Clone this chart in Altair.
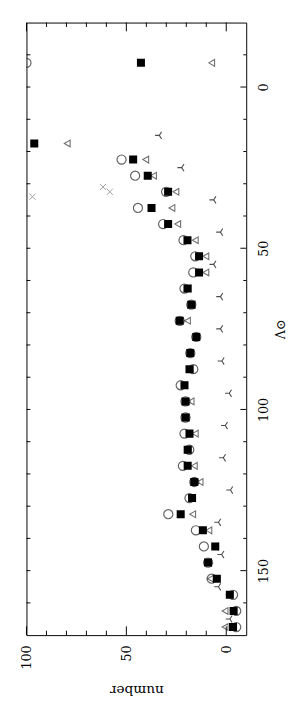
import altair as alt
import pandas as pd
import numpy as np

# Λ⊙ rows shared by the circle / square / triangle series
lam_rows = [-7.5, 17.5, 22.5, 27.5, 32.5, 37.5, 42.5, 47.5, 52.5, 57.5, 62.5, 67.5,
            72.5, 77.5, 82.5, 87.5, 92.5, 97.5, 102.5, 107.5, 112.5, 117.5, 122.5,
            127.5, 132.5, 137.5, 142.5, 147.5, 152.5, 157.5, 162.5, 167.5]
circle_vals = [100, None, 52.4, 45.6, 30.1, 44.2, 31.6, 21.4, 15.5, 16.5, 20.9, 17.5,
               23.3, 15.0, 18.0, 16.5, 22.8, 20.4, 20.4, 20.9, 18.5, 21.7, 16.0,
               18.4, 29.0, 15.2, 11.2, 9.1, 7.3, -3.4, -5.0, -5.0]
square_vals = [42.7, 96.1, 46.6, 39.3, 29.1, 37.4, 29.1, 19.4, 13.6, 13.6, 19.4, 17.5,
               23.3, 15.0, 18.0, 18.4, 20.9, 20.4, 20.4, 18.4, 19.3, 19.3, 16.0,
               17.1, 22.8, 11.7, 5.5, 9.1, 4.7, -1.8, -3.7, -3.4]
triangle_vals = [7.3, 79.6, 40.3, 36.4, 25.2, 27.2, 24.3, 15.5, 10.2, 10.2, 19.0, 17.0,
                 19.4, 15.0, 18.0, 18.0, 21.0, 17.6, 20.0, 15.5, 19.0, 16.0, 13.1,
                 17.0, 16.8, 8.7, 5.5, 9.0, 7.9, -1.5, 0.6, 0.6]

# tri-shaped ("Y") series
tri_lam = [15, 25, 35, 45, 55, 65, 75, 85, 95, 105, 115, 125, 135, 145, 155, 165]
tri_vals = [33.5, 22.3, 6.3, 2.9, 6.3, 2.9, 2.9, 2.2, -1.5, 0.5, 1.5, -2.1, 3.9, 2.3, 3.9, -1.8]

# crosses
cross_lam = [31.0, 32.5, 34.0]
cross_vals = [61.7, 58.3, 97.0]

# axis tick positions
x_major = [0, 50, 100]
x_minor = [10, 20, 30, 40, 60, 70, 80, 90]
y_major = [0, 50, 100, 150]
y_minor = [-10, 10, 20, 30, 40, 60, 70, 80, 90, 110, 120, 130, 140, 160]

W, H = 226, 630
FONT = "DejaVu Serif"

xscale = alt.Scale(domain=[-10, 100], reverse=True, nice=False, zero=False)
yscale = alt.Scale(domain=[-20, 170], reverse=True, nice=False, zero=False)

def pts(lams, vals):
    return pd.DataFrame({"num": vals, "lam": lams}).dropna()

circ_df = pts(lam_rows, circle_vals)
sq_df = pts(lam_rows, square_vals)
tr_df = pts(lam_rows, triangle_vals)
y_df = pts(tri_lam, tri_vals)
x_df = pts(cross_lam, cross_vals)

x_axis = alt.Axis(values=x_major, ticks=False, tickSize=0, domain=False, grid=False,
                  labelAngle=270, labelFont=FONT, labelFontSize=13, labelPadding=10,
                  labelColor="black", title="number", titleAngle=180, titleFont=FONT,
                  titleFontSize=14, titleFontWeight="normal", titleColor="black",
                  titlePadding=28)
y_axis = alt.Axis(orient="right", values=y_major, ticks=False, tickSize=0, domain=False,
                  grid=False, labelAngle=270, labelFont=FONT, labelFontSize=13,
                  labelPadding=12, labelColor="black", title="Λ⊙", titleAngle=270,
                  titleFont=FONT, titleFontSize=13, titleFontWeight="normal",
                  titleColor="black", titlePadding=17)

X = alt.X("num:Q", scale=xscale, axis=x_axis, title="number")
Y = alt.Y("lam:Q", scale=yscale, axis=y_axis, title="Λ⊙")

circles = alt.Chart(circ_df).mark_point(shape="circle", filled=False, size=88,
                                        color="#222", strokeWidth=1.2, clip=True).encode(x=X, y=Y)
triangles = alt.Chart(tr_df).mark_point(shape="triangle-left", filled=False, size=48,
                                        color="#333", strokeWidth=1.1, clip=True).encode(x=X, y=Y)
squares = alt.Chart(sq_df).mark_point(shape="square", filled=True, size=68,
                                      color="black", opacity=1, clip=True).encode(x=X, y=Y)
ymarks = alt.Chart(y_df).mark_point(shape="M -1 0 L 0 0 L 0.55 -0.85 M 0 0 L 0.55 0.85",
                                    filled=False, size=75, color="black",
                                    strokeWidth=1.1, clip=True).encode(x=X, y=Y)
crosses = alt.Chart(x_df).mark_point(shape="M -1 -1 L 1 1 M -1 1 L 1 -1", filled=False,
                                     size=40, color="#777", strokeWidth=1, clip=True).encode(x=X, y=Y)

def xticks(vals, length):
    d = pd.DataFrame({"num": vals})
    base = alt.Chart(d).mark_rule(color="black", strokeWidth=1)
    bot = base.encode(x=X, y=alt.value(H), y2=alt.value(H - length))
    top = base.encode(x=X, y=alt.value(0), y2=alt.value(length))
    return [bot, top]

def yticks(vals, rlen, llen):
    d = pd.DataFrame({"lam": vals})
    base = alt.Chart(d).mark_rule(color="black", strokeWidth=1)
    right = base.encode(y=Y, x=alt.value(W), x2=alt.value(W - rlen))
    left = base.encode(y=Y, x=alt.value(0), x2=alt.value(llen))
    return [right, left]

tick_layers = xticks(x_major, 9) + xticks(x_minor, 4.5) + yticks(y_major, 6, 4) + yticks(y_minor, 3, 4)

chart = alt.layer(circles, triangles, squares, ymarks, crosses, *tick_layers).properties(
    width=W, height=H,
    autosize=alt.AutoSizeParams(type="none"),
    padding={"left": 19, "top": 5, "right": 44, "bottom": 66},
).configure_view(stroke="black", strokeWidth=1)

chart.save("out.html", embed_options={"renderer": "svg", "actions": False})
